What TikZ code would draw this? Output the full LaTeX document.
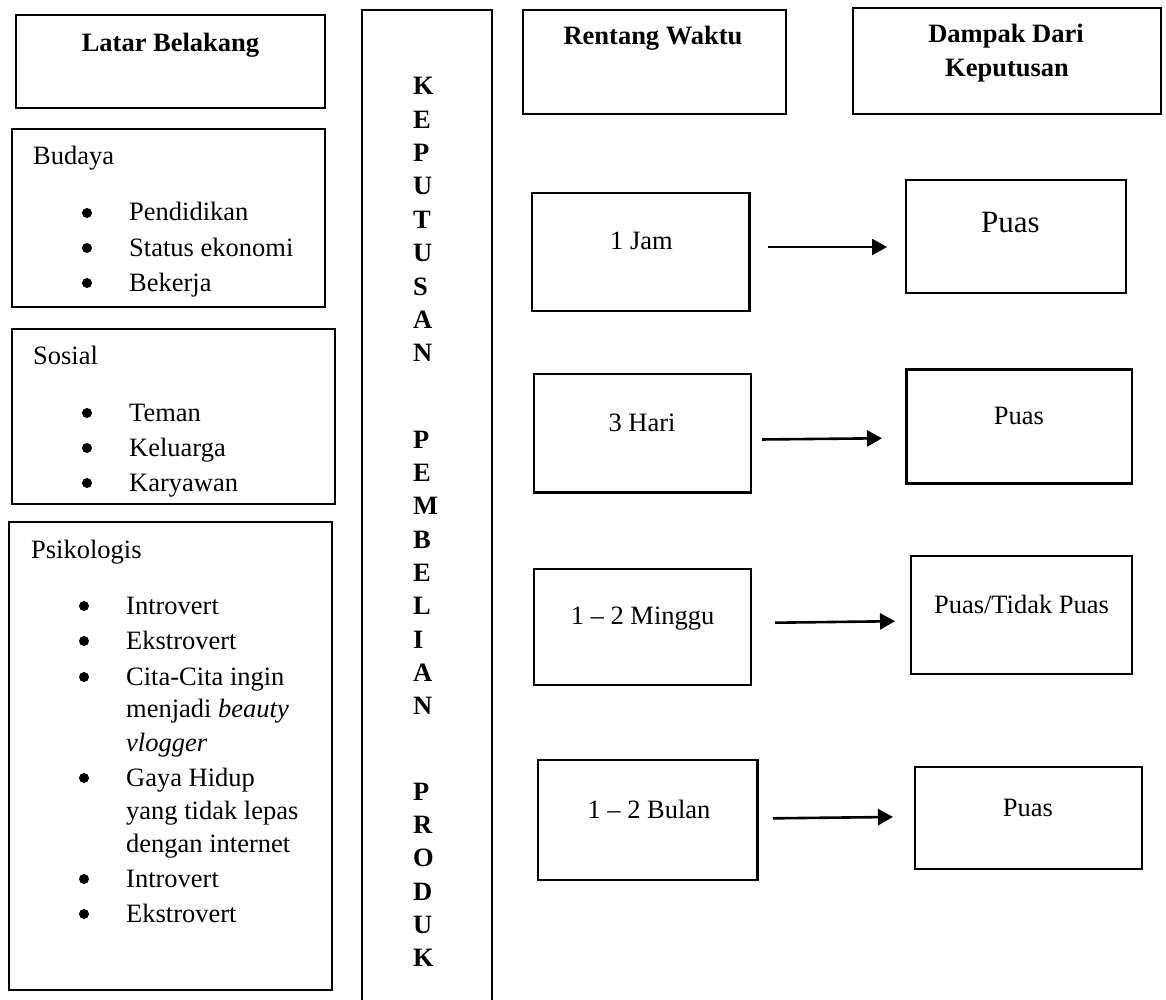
\documentclass[tikz,border=0pt]{standalone}
\usepackage{fontspec}
\setmainfont{Liberation Serif}
\usetikzlibrary{arrows.meta,fit}
\begin{document}
\begin{tikzpicture}[x=1pt,y=-1pt,
  box/.style={draw, line width=2.1pt, inner sep=0pt, outer sep=0pt},
  txt/.style={inner sep=0pt, anchor=base west, font=\fontsize{26.5}{32}\selectfont},
  ctxt/.style={inner sep=0pt, anchor=base, font=\fontsize{26.5}{32}\selectfont},
  bctxt/.style={inner sep=0pt, anchor=base, font=\fontsize{26.5}{32}\selectfont\bfseries},
  bigtxt/.style={inner sep=0pt, anchor=base, font=\fontsize{31}{36}\selectfont},
  bul/.style={circle, fill=black, inner sep=0pt, minimum size=10pt},
  letter/.style={inner sep=0pt, anchor=base west, font=\fontsize{26.5}{32}\selectfont\bfseries},
  arr/.style={line width=2.6pt, -{Triangle[length=15pt,width=16pt]}}]
\useasboundingbox (0,0) rectangle (1166,1000);
\fill[white] (0,0) rectangle (1166,1000);

% ---------- left column ----------
\node[box, fit={(16,15) (325,108)}] (lb) {};
\node[bctxt] (lbt) at (170.5,52) {Latar Belakang};

\node[box, fit={(12,129) (325,307)}] (bud) {};
\node[txt] (budh) at (33,165) {Budaya};
\foreach \t/\yy [count=\i] in {Pendidikan/221, Status ekonomi/256, Bekerja/291}{
  \node[bul] (budb\i) at (87,\yy-8) {};
  \node[txt] (budt\i) at (129,\yy) {\t};
}

\node[box, fit={(12,329) (335,504)}] (sos) {};
\node[txt] (sosh) at (33,364) {Sosial};
\foreach \t/\yy [count=\i] in {Teman/421, Keluarga/456, Karyawan/491}{
  \node[bul] (sosb\i) at (87,\yy-8) {};
  \node[txt] (sost\i) at (129,\yy) {\t};
}

\node[box, fit={(9,522) (332,990)}] (psi) {};
\node[txt] (psih) at (31,558) {Psikologis};
\foreach \yy [count=\i] in {614,649,685,786,887,922}{
  \node[bul] (psib\i) at (84,\yy-8) {};
}
\node[txt] (psit1) at (126,614) {Introvert};
\node[txt] (psit2) at (126,649) {Ekstrovert};
\node[txt] (psit3) at (126,685) {Cita-Cita ingin};
\node[txt] (psit4) at (126,717) {menjadi \textit{beauty}};
\node[txt] (psit5) at (126,751) {\textit{vlogger}};
\node[txt] (psit6) at (126,786) {Gaya Hidup};
\node[txt] (psit7) at (126,819) {yang tidak lepas};
\node[txt] (psit8) at (126,852) {dengan internet};
\node[txt] (psit9) at (126,887) {Introvert};
\node[txt] (psit10) at (126,922) {Ekstrovert};

% ---------- vertical column ----------
\node[box, fit={(362,10) (492,1010)}] (kep) {};
\foreach \l/\yy [count=\i] in {K/95,E/128.3,P/161.6,U/195,T/228.3,U/261.6,S/295,A/328.3,N/361.6,
  P/448,E/481.3,M/514.6,B/548,E/581.3,L/614.6,I/648,A/681.3,N/714.6,
  P/800,R/833.3,O/866.6,D/900,U/933.3,K/966.6}{
  \node[letter] (kp\i) at (413,\yy) {\l};
}

% ---------- right columns ----------
\node[box, fit={(523,10) (786,114)}] (rw) {};
\node[bctxt] (rwt) at (653,45) {Rentang Waktu};
\node[box, fit={(853,8) (1161,114)}] (dk) {};
\node[bctxt] (dkt1) at (1006,43) {Dampak Dari};
\node[bctxt] (dkt2) at (1007,77) {Keputusan};

\node[box, fit={(532,193) (749.5,311)}] (t1) {};
\node[ctxt] (t1t) at (641.5,250) {1 Jam};
\node[box, fit={(906,180) (1126,293)}] (d1) {};
\node[bigtxt] (d1t) at (1010.5,233) {Puas};

\node[box, fit={(534,374) (751,492.5)}] (t2) {};
\node[ctxt] (t2t) at (642,431.6) {3 Hari};
\node[box, fit={(906.5,369.5) (1132,483.5)}] (d2) {};
\node[ctxt] (d2t) at (1019,424) {Puas};

\node[box, fit={(534,569) (751,685)}] (t3) {};
\node[ctxt] (t3t) at (642.6,624) {1 – 2 Minggu};
\node[box, fit={(911,556) (1132,674)}] (d3) {};
\node[ctxt] (d3t) at (1021.5,613) {Puas/Tidak Puas};

\node[box, fit={(538.4,760) (757.5,880)}] (t4) {};
\node[ctxt] (t4t) at (649,818) {1 – 2 Bulan};
\node[box, fit={(915.4,766.6) (1141.7,869)}] (d4) {};
\node[ctxt] (d4t) at (1028,816) {Puas};

% ---------- arrows ----------
\draw[arr, shorten <=18.5pt, shorten >=19pt] (t1.east |- 0,247) -- (d1.west |- 0,247);
\draw[arr, shorten <=11pt, shorten >=24.5pt] (t2.east |- 0,439.6) -- (d2.west |- 0,438);
\draw[arr, shorten <=24pt, shorten >=16pt] (t3.east |- 0,623) -- (d3.west |- 0,621);
\draw[arr, shorten <=15.5pt, shorten >=22.4pt] (t4.east |- 0,818.5) -- (d4.west |- 0,816.7);
\end{tikzpicture}
\end{document}
